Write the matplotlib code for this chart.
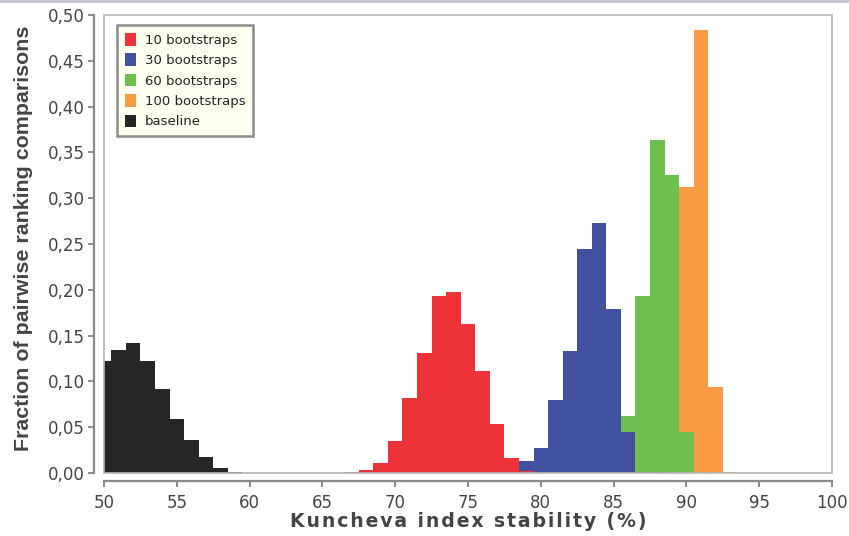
import matplotlib
matplotlib.use("Agg")
import matplotlib.pyplot as plt
from matplotlib.patches import Rectangle, Patch
from matplotlib.ticker import FuncFormatter, MultipleLocator

plt.rcParams['font.family'] = ['DejaVu Sans']

# Data: bin centres (Kuncheva index %) and fraction of comparisons
baseline_x = [50, 51, 52, 53, 54, 55, 56, 57, 58, 59]
baseline_y = [0.122, 0.134, 0.142, 0.122, 0.092, 0.059, 0.036, 0.018, 0.005, 0.0015]

b10_x = [67, 68, 69, 70, 71, 72, 73, 74, 75, 76, 77, 78, 79]
b10_y = [0.0008, 0.003, 0.011, 0.035, 0.082, 0.131, 0.193, 0.198, 0.163, 0.111, 0.0535, 0.016, 0.002]

b30_x = [79, 80, 81, 82, 83, 84, 85, 86, 87, 88]
b30_y = [0.013, 0.027, 0.080, 0.133, 0.244, 0.273, 0.179, 0.0447, 0.0012, 0.001]

b60_x = [86, 87, 88, 89, 90]
b60_y = [0.0626, 0.193, 0.363, 0.325, 0.045]

b100_x = [90, 91, 92, 93]
b100_y = [0.312, 0.484, 0.094, 0.001]

labels = ["10 bootstraps", "30 bootstraps", "60 bootstraps", "100 bootstraps", "baseline"]
colors = ["#ee3338", "#42519f", "#6dbf4f", "#f99b45", "#262626"]
xlabel_text = "Kuncheva index stability (%)"
ylabel_text = "Fraction of pairwise ranking comparisons"

fig = plt.figure(figsize=(8.49, 5.36), dpi=100)
ax = fig.add_axes([104/849, 1 - 473/536, (832-104)/849, (473-15)/536])

# draw order: orange, green, blue, red, black
series = [(b100_x, b100_y, colors[3]), (b60_x, b60_y, colors[2]),
          (b30_x, b30_y, colors[1]), (b10_x, b10_y, colors[0]),
          (baseline_x, baseline_y, colors[4])]
for xs, ys, c in series:
    ax.bar(xs, ys, width=1.0, color=c, edgecolor='none', align='center')

ax.set_xlim(50, 100)
ax.set_ylim(0, 0.5)
ax.xaxis.set_major_locator(MultipleLocator(5))
ax.yaxis.set_major_locator(MultipleLocator(0.05))
ax.yaxis.set_major_formatter(FuncFormatter(lambda v, p: f"{v:.2f}".replace('.', ',')))

spine_c = "#8a8a8a"
for s in ['top', 'right']:
    ax.spines[s].set_visible(False)
ax.spines['left'].set_position(('outward', 7))
ax.spines['bottom'].set_position(('outward', 6))
ax.spines['left'].set_color(spine_c)
ax.spines['bottom'].set_color(spine_c)
ax.spines['left'].set_linewidth(1.6)
ax.spines['bottom'].set_linewidth(1.6)

# plot area frame
ax.add_patch(Rectangle((0, 0), 1, 1, transform=ax.transAxes, fill=False,
                       edgecolor="#b5b5b5", linewidth=1.2, clip_on=False, zorder=5))

ax.tick_params(axis='both', colors=spine_c, labelcolor="#444444", labelsize=12,
               length=4, width=1.4)
ax.tick_params(axis='x', pad=5)
ax.tick_params(axis='y', pad=3)

# x label with extra letter spacing (hair spaces)
spaced = "\u200a".join(xlabel_text)
ax.set_xlabel(spaced, fontsize=13.6, fontweight='bold', color="#444444", labelpad=0)
ax.set_ylabel(ylabel_text, fontsize=15.4, fontweight='bold', color="#444444",
              family=['Liberation Sans', 'DejaVu Sans'])
ax.yaxis.set_label_coords(-0.0975, 0.513)

handles = [Patch(facecolor=c, edgecolor='none') for c in colors]
leg = ax.legend(handles, labels, loc='upper left', bbox_to_anchor=(0.018, 0.978),
                fontsize=9.5, frameon=True, fancybox=False, handlelength=0.8,
                handleheight=1.1, handletextpad=0.7, labelspacing=0.5,
                borderpad=0.6, borderaxespad=0)
leg.get_frame().set_facecolor("#fffff0")
leg.get_frame().set_edgecolor("#8a8a8a")
leg.get_frame().set_linewidth(1.8)
leg.get_frame().set_alpha(1)
for t in leg.get_texts():
    t.set_color("#222222")

# top band
fig.patches.append(Rectangle((0, 1 - 3/536), 1, 3/536, transform=fig.transFigure,
                             facecolor="#c5c8d0", edgecolor='none'))

fig.savefig("out.png", dpi=100)
